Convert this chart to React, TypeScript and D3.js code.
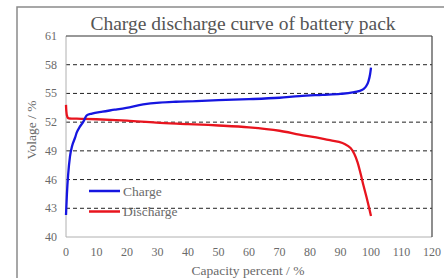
import React from "react";
import * as d3 from "d3";

const chargeCap = [0, 0.3, 0.7, 1.3, 2, 3, 3.5, 4.5, 5.7, 6.8, 8.5, 12, 16, 19.8, 25.3, 30.7, 36, 42.7, 50, 60, 70, 76.5, 84, 90, 94, 96, 97.5, 98.5, 99.2, 99.7, 100];
const chargeV = [42.3, 44.5, 46.5, 48.4, 49.5, 50.4, 50.9, 51.5, 52.05, 52.7, 52.9, 53.1, 53.3, 53.5, 53.85, 54.04, 54.13, 54.2, 54.3, 54.4, 54.55, 54.72, 54.85, 54.95, 55.1, 55.24, 55.45, 55.8, 56.3, 57.0, 57.7];

const dischargeCap = [0, 0.1, 0.3, 0.6, 1, 5, 10, 20, 29.6, 40, 50, 60, 70, 76.5, 82, 86, 89.5, 91.5, 93.3, 94.5, 95.6, 96.6, 97.6, 98.5, 99.2, 99.7, 100];
const dischargeV = [53.8, 53.2, 52.7, 52.45, 52.4, 52.35, 52.3, 52.15, 51.95, 51.8, 51.65, 51.45, 51.1, 50.7, 50.4, 50.15, 49.93, 49.7, 49.3, 48.7, 47.8, 46.6, 45.3, 44.2, 43.3, 42.6, 42.2];

const xTicks = [0, 10, 20, 30, 40, 50, 60, 70, 80, 90, 100, 110, 120];
const yTicks = [40, 43, 46, 49, 52, 55, 58, 61];
const gridVals = [43, 46, 49, 52, 55, 58];

const title = "Charge discharge curve of battery pack";
const xLabel = "Capacity percent / %";
const yLabel = "Volage / %";

export default function App() {
  const W = 444, H = 278;
  const left = 66, right = 432, top = 36, bottom = 237;
  const x = d3.scaleLinear().domain([0, 120]).range([left, right]);
  const y = d3.scaleLinear().domain([40, 61]).range([bottom, top]);
  const cPath = d3.line<[number, number]>().x(d => x(d[0])).y(d => y(d[1])).curve(d3.curveMonotoneX)(chargeCap.map((c, i) => [c, chargeV[i]]) as [number, number][]) || "";
  const dPath = d3.line<[number, number]>().x(d => x(d[0])).y(d => y(d[1])).curve(d3.curveCatmullRom)(dischargeCap.map((c, i) => [c, dischargeV[i]]) as [number, number][]) || "";
  const font = "'Liberation Serif', 'Times New Roman', serif";
  const txt = "#6a6a6a";
  return (
    <svg width={W} height={H} style={{ position: "absolute", left: 0, top: 0, background: "#fff" }} fontFamily={font}>
      <rect x={17} y={7} width={500} height={400} fill="none" stroke="#8a8a8a" strokeWidth={1.5} />
      <text x={243} y={30} textAnchor="middle" fontSize={19.5} fill="#555">{title}</text>
      {gridVals.map(v => (
        <line key={v} x1={left} x2={right} y1={y(v)} y2={y(v)} stroke="#222" strokeWidth={1} strokeDasharray="4,3" />
      ))}
      <line x1={left} x2={left} y1={top} y2={bottom} stroke="#b0b0b0" strokeWidth={1} />
      <line x1={left} x2={right} y1={bottom} y2={bottom} stroke="#b0b0b0" strokeWidth={1} />
      <line x1={left} x2={right} y1={top} y2={top} stroke="#333" strokeWidth={1.2} />
      <line x1={right} x2={right} y1={top} y2={bottom} stroke="#444" strokeWidth={1.2} />
      {yTicks.map(v => (
        <text key={v} x={57} y={y(v) + 4} textAnchor="end" fontSize={12} fill={txt}>{v}</text>
      ))}
      {xTicks.map(v => (
        <text key={v} x={x(v)} y={256} textAnchor="middle" fontSize={12} fill={txt}>{v}</text>
      ))}
      <text x={248} y={275} textAnchor="middle" fontSize={13.5} fill={txt}>{xLabel}</text>
      <text transform={`translate(36,${130}) rotate(-90)`} textAnchor="middle" fontSize={13.5} fill={txt}>{yLabel}</text>
      <path d={dPath} fill="none" stroke="#e8141e" strokeWidth={2.3} />
      <path d={cPath} fill="none" stroke="#1616e0" strokeWidth={2.3} />
      <line x1={89} x2={120} y1={191} y2={191} stroke="#1616e0" strokeWidth={2.5} />
      <text x={123} y={195.5} fontSize={13.5} fill={txt}>Charge</text>
      <line x1={89} x2={120} y1={211.5} y2={211.5} stroke="#e8141e" strokeWidth={2.5} />
      <text x={123} y={216} fontSize={13.5} fill={txt}>Discharge</text>
    </svg>
  );
}
